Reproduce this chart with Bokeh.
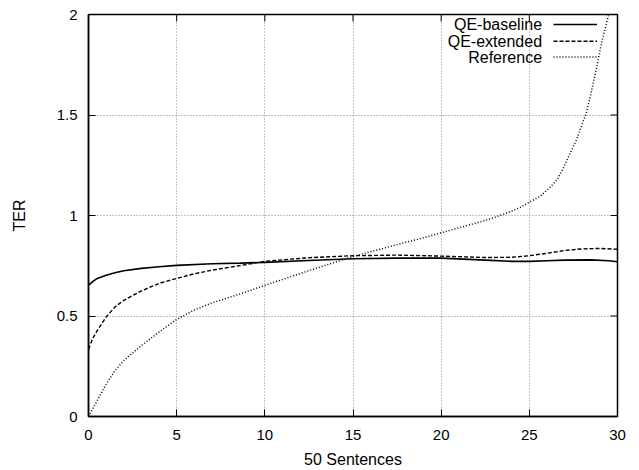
from bokeh.plotting import figure
from bokeh.models import Range1d, FixedTicker, Label, Arrow
from bokeh.embed import file_html
from bokeh.resources import INLINE

# ---- data ----
x_base = [0, 0.25, 0.5, 1, 1.5, 2, 3, 4, 5, 7, 8.6, 10, 12.5, 15, 17.5, 20, 22.5, 24, 25, 26, 27, 28.5, 29.5, 30]
y_base = [0.652, 0.672, 0.687, 0.703, 0.715, 0.725, 0.737, 0.745, 0.752, 0.760, 0.763, 0.767, 0.776, 0.785,
          0.788, 0.788, 0.778, 0.772, 0.772, 0.775, 0.778, 0.779, 0.775, 0.770]

x_ext = [0, 0.25, 0.5, 1, 1.5, 2, 3, 4, 5, 6, 7, 8.6, 10, 12.5, 15, 17.5, 20, 22.5, 24, 25, 26, 27, 28, 29, 30]
y_ext = [0.335, 0.39, 0.428, 0.495, 0.545, 0.578, 0.625, 0.662, 0.687, 0.71, 0.728, 0.751, 0.772, 0.79,
         0.80, 0.803, 0.798, 0.791, 0.792, 0.80, 0.812, 0.826, 0.834, 0.836, 0.832]

x_ref = [0, 0.25, 0.5, 0.75, 1, 1.5, 2, 3, 4, 5, 6, 7, 8.6, 10, 12.5, 15, 17.5, 18.8, 20, 22.5, 23.35, 24,
         24.5, 25, 25.6, 26.2, 26.6, 26.95, 27.3, 27.7, 28.0, 28.23, 28.5, 28.8, 29.1, 29.5, 30]
y_ref = [0.0, 0.04, 0.08, 0.12, 0.16, 0.228, 0.278, 0.353, 0.42, 0.483, 0.53, 0.565, 0.61, 0.652, 0.726,
         0.796, 0.855, 0.884, 0.914, 0.975, 1.0, 1.022, 1.041, 1.066, 1.095, 1.141, 1.182, 1.24, 1.307,
         1.381, 1.456, 1.509, 1.61, 1.73, 1.86, 2.0, 2.17]

series_names = ["QE-baseline", "QE-extended", "Reference"]
x_ticks = [0, 5, 10, 15, 20, 25, 30]
y_ticks = [0, 0.5, 1, 1.5, 2]
y_tick_labels = ["0", "0.5", "1", "1.5", "2"]
x_label = "50 Sentences"
y_label = "TER"

FONT = "Liberation Sans"
TICK_FS = "15px"
LABEL_FS = "16px"

X0, X1, Y0, Y1 = 0, 30, 0, 2
W, H = 639, 470
BL, BR, BT, BB = 88, 22, 14, 54

p = figure(width=W, height=H, x_range=Range1d(X0, X1), y_range=Range1d(Y0, Y1),
           output_backend="svg", toolbar_location=None,
           min_border_left=BL, min_border_right=BR, min_border_top=BT, min_border_bottom=BB)

p.outline_line_color = "black"
p.outline_line_width = 1.5

p.xaxis.ticker = FixedTicker(ticks=x_ticks)
p.yaxis.ticker = FixedTicker(ticks=y_ticks)
p.yaxis.major_label_overrides = {t: s for t, s in zip(y_ticks, y_tick_labels)}
p.xaxis.axis_label = x_label
p.yaxis.axis_label = y_label

for ax in (p.xaxis[0], p.yaxis[0]):
    ax.axis_line_color = "black"
    ax.axis_line_width = 1.5
    ax.major_tick_in = 7
    ax.major_tick_out = 0
    ax.major_tick_line_color = "black"
    ax.major_tick_line_width = 1
    ax.minor_tick_line_color = None
    ax.major_label_text_font = FONT
    ax.major_label_text_font_size = TICK_FS
    ax.major_label_text_color = "black"
    ax.axis_label_text_font = FONT
    ax.axis_label_text_font_size = LABEL_FS
    ax.axis_label_text_font_style = "normal"
    ax.axis_label_text_color = "black"

p.xaxis.major_label_standoff = 13
p.xaxis.axis_label_standoff = 8
p.yaxis.major_label_standoff = 11
p.yaxis.axis_label_standoff = 26

p.xgrid.ticker = FixedTicker(ticks=x_ticks)
p.ygrid.ticker = FixedTicker(ticks=y_ticks)
for g in (p.xgrid[0], p.ygrid[0]):
    g.grid_line_color = "#888888"
    g.grid_line_width = 1
    g.grid_line_dash = "1 2"

# mirrored (inward) ticks on the top and right edges, 7 px long
frame_w = W - BL - BR
frame_h = H - BT - BB
tx = 7 * (X1 - X0) / frame_w
ty = 7 * (Y1 - Y0) / frame_h
p.segment(x0=x_ticks, y0=[Y1] * len(x_ticks), x1=x_ticks, y1=[Y1 - ty] * len(x_ticks),
          line_color="black", line_width=1)
p.segment(x0=[X1] * len(y_ticks), y0=y_ticks, x1=[X1 - tx] * len(y_ticks), y1=y_ticks,
          line_color="black", line_width=1)

styles = [
    dict(line_dash="solid", line_width=1.6),
    dict(line_dash="4 2", line_width=1.4),
    dict(line_dash="1 2", line_width=1.5),
]

for (xs, ys), st in zip([(x_base, y_base), (x_ext, y_ext), (x_ref, y_ref)], styles):
    p.line(xs, ys, line_color="black", **st)

# legend: text right-aligned, sample line to the right
leg_rows = [1.950, 1.867, 1.788]
for name, yy, st in zip(series_names, leg_rows, styles):
    p.add_layout(Label(x=25.72, y=yy, text=name, text_align="right", text_baseline="middle",
                       text_font=FONT, text_font_size=LABEL_FS, text_color="black"))
    p.add_layout(Arrow(end=None, x_start=26.37, y_start=yy, x_end=28.84, y_end=yy,
                       line_color="black", **st))

open("out.html", "w").write(file_html(p, INLINE))
